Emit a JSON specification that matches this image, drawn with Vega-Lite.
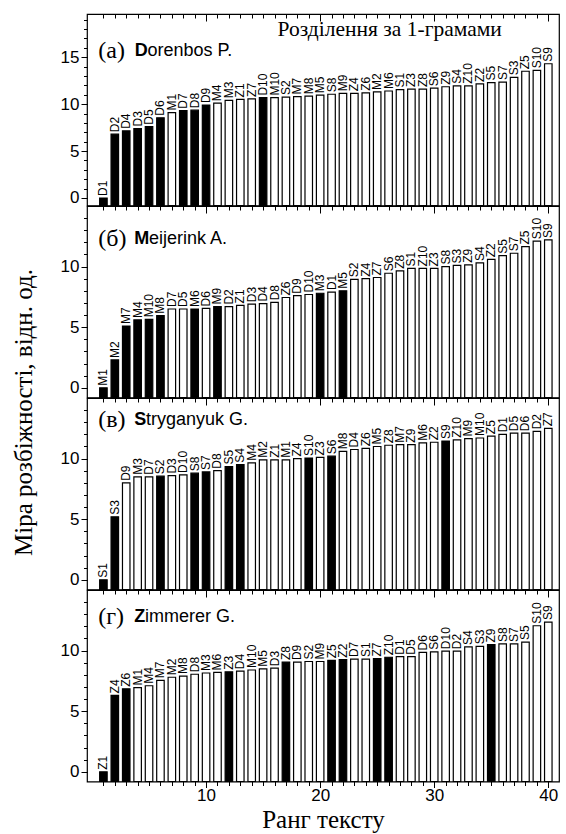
{
"$schema": "https://vega.github.io/schema/vega-lite/v6.json",
"padding": {"left": 10, "top": 12, "right": 8, "bottom": 0},
"spacing": 0,
"bounds": "flush",
"config": {
  "view": {"stroke": "black", "strokeWidth": 1.2},
  "axis": {"domain": false, "grid": false, "tickColor": "black", "tickWidth": 1, "labelColor": "black", "titleColor": "black", "labelFont": "Liberation Sans", "labelFontSize": 17, "titleFontWeight": "normal", "labelPadding": 2}
},
"datasets": {
"a": [
{"r":1,"t":"D1","v":0,"own":"y"},{"r":2,"t":"D2","v":6.8,"own":"y"},{"r":3,"t":"D4","v":7.15,"own":"y"},{"r":4,"t":"D3","v":7.4,"own":"y"},{"r":5,"t":"D5","v":7.6,"own":"y"},{"r":6,"t":"D6","v":8.55,"own":"y"},{"r":7,"t":"M1","v":9.1,"own":"n"},{"r":8,"t":"D7","v":9.3,"own":"y"},{"r":9,"t":"D8","v":9.35,"own":"y"},{"r":10,"t":"D9","v":9.9,"own":"y"},
{"r":11,"t":"M4","v":10.1,"own":"n"},{"r":12,"t":"M3","v":10.4,"own":"n"},{"r":13,"t":"Z1","v":10.5,"own":"n"},{"r":14,"t":"Z7","v":10.55,"own":"n"},{"r":15,"t":"D10","v":10.7,"own":"y"},{"r":16,"t":"M10","v":10.7,"own":"n"},{"r":17,"t":"S2","v":10.75,"own":"n"},{"r":18,"t":"M7","v":10.8,"own":"n"},{"r":19,"t":"M8","v":10.85,"own":"n"},{"r":20,"t":"M5","v":10.95,"own":"n"},
{"r":21,"t":"S8","v":11.05,"own":"n"},{"r":22,"t":"M9","v":11.15,"own":"n"},{"r":23,"t":"Z4","v":11.15,"own":"n"},{"r":24,"t":"Z6","v":11.2,"own":"n"},{"r":25,"t":"M2","v":11.3,"own":"n"},{"r":26,"t":"M6","v":11.4,"own":"n"},{"r":27,"t":"S1","v":11.55,"own":"n"},{"r":28,"t":"Z3","v":11.6,"own":"n"},{"r":29,"t":"Z8","v":11.6,"own":"n"},{"r":30,"t":"S6","v":11.7,"own":"n"},
{"r":31,"t":"Z9","v":11.85,"own":"n"},{"r":32,"t":"S4","v":11.95,"own":"n"},{"r":33,"t":"Z10","v":11.95,"own":"n"},{"r":34,"t":"Z2","v":12.15,"own":"n"},{"r":35,"t":"S5","v":12.3,"own":"n"},{"r":36,"t":"S7","v":12.35,"own":"n"},{"r":37,"t":"S3","v":12.85,"own":"n"},{"r":38,"t":"Z5","v":13.5,"own":"n"},{"r":39,"t":"S10","v":13.6,"own":"n"},{"r":40,"t":"S9","v":14.3,"own":"n"}
],
"b": [
{"r":1,"t":"M1","v":0,"own":"y"},{"r":2,"t":"M2","v":2.3,"own":"y"},{"r":3,"t":"M7","v":5.1,"own":"y"},{"r":4,"t":"M4","v":5.6,"own":"y"},{"r":5,"t":"M10","v":5.65,"own":"y"},{"r":6,"t":"M8","v":5.95,"own":"y"},{"r":7,"t":"D7","v":6.5,"own":"n"},{"r":8,"t":"D5","v":6.5,"own":"n"},{"r":9,"t":"M6","v":6.5,"own":"y"},{"r":10,"t":"D6","v":6.55,"own":"n"},
{"r":11,"t":"M9","v":6.7,"own":"y"},{"r":12,"t":"D2","v":6.7,"own":"n"},{"r":13,"t":"Z1","v":6.8,"own":"n"},{"r":14,"t":"D3","v":6.9,"own":"n"},{"r":15,"t":"D4","v":6.95,"own":"n"},{"r":16,"t":"D8","v":7.05,"own":"n"},{"r":17,"t":"Z6","v":7.45,"own":"n"},{"r":18,"t":"D9","v":7.6,"own":"n"},{"r":19,"t":"D10","v":7.7,"own":"n"},{"r":20,"t":"M3","v":7.8,"own":"y"},
{"r":21,"t":"D1","v":7.9,"own":"n"},{"r":22,"t":"M5","v":8.0,"own":"y"},{"r":23,"t":"S2","v":8.95,"own":"n"},{"r":24,"t":"Z4","v":9.0,"own":"n"},{"r":25,"t":"Z7","v":9.1,"own":"n"},{"r":26,"t":"S6","v":9.45,"own":"n"},{"r":27,"t":"Z8","v":9.65,"own":"n"},{"r":28,"t":"S1","v":9.85,"own":"n"},{"r":29,"t":"Z10","v":9.85,"own":"n"},{"r":30,"t":"Z3","v":9.85,"own":"n"},
{"r":31,"t":"S8","v":10.0,"own":"n"},{"r":32,"t":"S3","v":10.1,"own":"n"},{"r":33,"t":"Z9","v":10.15,"own":"n"},{"r":34,"t":"S4","v":10.3,"own":"n"},{"r":35,"t":"Z2","v":10.6,"own":"n"},{"r":36,"t":"S5","v":10.9,"own":"n"},{"r":37,"t":"S7","v":11.1,"own":"n"},{"r":38,"t":"Z5","v":11.65,"own":"n"},{"r":39,"t":"S10","v":12.1,"own":"n"},{"r":40,"t":"S9","v":12.2,"own":"n"}
],
"c": [
{"r":1,"t":"S1","v":0,"own":"y"},{"r":2,"t":"S3","v":5.2,"own":"y"},{"r":3,"t":"D9","v":8.0,"own":"n"},{"r":4,"t":"M3","v":8.5,"own":"n"},{"r":5,"t":"D7","v":8.5,"own":"n"},{"r":6,"t":"S2","v":8.55,"own":"y"},{"r":7,"t":"D3","v":8.6,"own":"n"},{"r":8,"t":"D10","v":8.65,"own":"n"},{"r":9,"t":"S8","v":8.8,"own":"y"},{"r":10,"t":"S7","v":8.9,"own":"y"},
{"r":11,"t":"D8","v":9.0,"own":"n"},{"r":12,"t":"S5","v":9.35,"own":"y"},{"r":13,"t":"S4","v":9.5,"own":"y"},{"r":14,"t":"M4","v":9.65,"own":"n"},{"r":15,"t":"M2","v":9.9,"own":"n"},{"r":16,"t":"Z1","v":9.9,"own":"n"},{"r":17,"t":"M1","v":9.9,"own":"n"},{"r":18,"t":"Z4","v":10.0,"own":"n"},{"r":19,"t":"S10","v":10.05,"own":"y"},{"r":20,"t":"Z3","v":10.1,"own":"n"},
{"r":21,"t":"S6","v":10.2,"own":"y"},{"r":22,"t":"M8","v":10.6,"own":"n"},{"r":23,"t":"D4","v":10.75,"own":"n"},{"r":24,"t":"Z6","v":10.85,"own":"n"},{"r":25,"t":"M5","v":11.0,"own":"n"},{"r":26,"t":"Z8","v":11.1,"own":"n"},{"r":27,"t":"M7","v":11.15,"own":"n"},{"r":28,"t":"Z9","v":11.15,"own":"n"},{"r":29,"t":"M6","v":11.3,"own":"n"},{"r":30,"t":"Z2","v":11.35,"own":"n"},
{"r":31,"t":"S9","v":11.45,"own":"y"},{"r":32,"t":"Z10","v":11.55,"own":"n"},{"r":33,"t":"M9","v":11.65,"own":"n"},{"r":34,"t":"M10","v":11.7,"own":"n"},{"r":35,"t":"Z5","v":11.85,"own":"n"},{"r":36,"t":"D1","v":12.0,"own":"n"},{"r":37,"t":"D5","v":12.1,"own":"n"},{"r":38,"t":"D6","v":12.1,"own":"n"},{"r":39,"t":"D2","v":12.25,"own":"n"},{"r":40,"t":"Z7","v":12.5,"own":"n"}
],
"d": [
{"r":1,"t":"Z1","v":0,"own":"y"},{"r":2,"t":"Z4","v":6.3,"own":"y"},{"r":3,"t":"Z6","v":6.85,"own":"y"},{"r":4,"t":"M1","v":6.95,"own":"n"},{"r":5,"t":"M4","v":7.1,"own":"n"},{"r":6,"t":"M7","v":7.55,"own":"n"},{"r":7,"t":"M2","v":7.8,"own":"n"},{"r":8,"t":"M8","v":7.9,"own":"n"},{"r":9,"t":"D8","v":8.05,"own":"n"},{"r":10,"t":"M3","v":8.15,"own":"n"},
{"r":11,"t":"M6","v":8.2,"own":"n"},{"r":12,"t":"Z3","v":8.25,"own":"y"},{"r":13,"t":"D4","v":8.3,"own":"n"},{"r":14,"t":"M10","v":8.4,"own":"n"},{"r":15,"t":"M5","v":8.5,"own":"n"},{"r":16,"t":"D3","v":8.55,"own":"n"},{"r":17,"t":"Z8","v":9.05,"own":"y"},{"r":18,"t":"D9","v":9.05,"own":"n"},{"r":19,"t":"S2","v":9.1,"own":"n"},{"r":20,"t":"M9","v":9.1,"own":"n"},
{"r":21,"t":"Z5","v":9.2,"own":"y"},{"r":22,"t":"Z2","v":9.25,"own":"y"},{"r":23,"t":"D7","v":9.3,"own":"n"},{"r":24,"t":"S1","v":9.3,"own":"n"},{"r":25,"t":"Z7","v":9.35,"own":"y"},{"r":26,"t":"Z10","v":9.45,"own":"y"},{"r":27,"t":"D1","v":9.5,"own":"n"},{"r":28,"t":"D5","v":9.5,"own":"n"},{"r":29,"t":"D6","v":9.85,"own":"n"},{"r":30,"t":"S6","v":9.9,"own":"n"},
{"r":31,"t":"D10","v":9.95,"own":"n"},{"r":32,"t":"D2","v":9.95,"own":"n"},{"r":33,"t":"S4","v":10.3,"own":"n"},{"r":34,"t":"S3","v":10.35,"own":"n"},{"r":35,"t":"Z9","v":10.5,"own":"y"},{"r":36,"t":"S8","v":10.55,"own":"n"},{"r":37,"t":"S7","v":10.55,"own":"n"},{"r":38,"t":"S5","v":10.7,"own":"n"},{"r":39,"t":"S10","v":12.05,"own":"n"},{"r":40,"t":"S9","v":12.35,"own":"n"}
]
},
"vconcat": [
{
 "width": 472, "height": 191.5,
 "data": {"name": "a"},
 "resolve": {"axis": {"x": "independent", "y": "independent"}},
 "layer": [
  {"mark": {"type": "bar", "size": 7.5, "stroke": "black", "strokeWidth": 1.2},
   "encoding": {
    "x": {"field": "r", "type": "quantitative", "scale": {"domain": [0, 40.5], "nice": false, "zero": false}, "axis": {"orient": "top", "values": [1,2,3,4,5,6,7,8,9,10,11,12,13,14,15,16,17,18,19,20,21,22,23,24,25,26,27,28,29,30,31,32,33,34,35,36,37,38,39,40], "tickSize": -4, "labels": false, "title": null}},
    "y": {"field": "v", "type": "quantitative", "scale": {"domain": [-0.8, 19.6], "nice": false, "zero": false}, "axis": {"orient": "left", "values": [0,5,10,15], "tickSize": 6, "title": null}},
    "y2": {"datum": -0.8},
    "fill": {"field": "own", "type": "nominal", "scale": {"domain": ["y","n"], "range": ["black","white"]}, "legend": null}
   }},
  {"mark": {"type": "text", "angle": 270, "align": "left", "baseline": "middle", "dx": 2, "font": "Liberation Sans", "fontSize": 12, "color": "black"},
   "encoding": {
    "x": {"field": "r", "type": "quantitative", "axis": {"orient": "top", "values": [10,20,30,40], "tickSize": -7, "labels": false, "title": null}},
    "y": {"field": "v", "type": "quantitative", "axis": {"orient": "left", "values": [0,1,2,3,4,5,6,7,8,9,10,11,12,13,14,15,16,17,18,19], "tickSize": 3.5, "labels": false, "title": null}},
    "text": {"field": "t"}
   }},
  {"data": {"values": [{}]}, "mark": {"type": "text", "text": "(а)", "font": "Liberation Serif", "fontSize": 24, "align": "left", "baseline": "middle", "color": "black"},
   "encoding": {"x": {"datum": 0.55, "type": "quantitative", "axis": null}, "y": {"datum": 15.7, "type": "quantitative", "axis": null}}},
  {"data": {"values": [{}]}, "mark": {"type": "text", "text": "D", "font": "Liberation Sans", "fontWeight": "bold", "fontSize": 18, "align": "left", "baseline": "middle", "color": "black"},
   "encoding": {"x": {"datum": 3.75, "type": "quantitative", "axis": null}, "y": {"datum": 15.7, "type": "quantitative", "axis": null}}},
  {"data": {"values": [{}]}, "mark": {"type": "text", "text": "orenbos P.", "font": "Liberation Sans", "fontSize": 18, "align": "left", "baseline": "middle", "color": "black"},
   "encoding": {"x": {"datum": 4.87, "type": "quantitative", "axis": null}, "y": {"datum": 15.7, "type": "quantitative", "axis": null}}},
  {"data": {"values": [{}]}, "mark": {"type": "text", "text": "Розділення за 1-грамами", "font": "Liberation Serif", "fontSize": 21.5, "align": "center", "baseline": "middle", "color": "black"},
   "encoding": {"x": {"datum": 26.1, "type": "quantitative", "axis": null}, "y": {"datum": 17.9, "type": "quantitative", "axis": null}}}
 ]
},
{
 "width": 472, "height": 191.5,
 "data": {"name": "b"},
 "resolve": {"axis": {"x": "independent", "y": "independent"}},
 "layer": [
  {"mark": {"type": "bar", "size": 7.5, "stroke": "black", "strokeWidth": 1.2},
   "encoding": {
    "x": {"field": "r", "type": "quantitative", "scale": {"domain": [0, 40.5], "nice": false, "zero": false}, "axis": {"orient": "top", "values": [1,2,3,4,5,6,7,8,9,10,11,12,13,14,15,16,17,18,19,20,21,22,23,24,25,26,27,28,29,30,31,32,33,34,35,36,37,38,39,40], "tickSize": -4, "labels": false, "title": null}},
    "y": {"field": "v", "type": "quantitative", "scale": {"domain": [-0.8, 15], "nice": false, "zero": false}, "axis": {"orient": "left", "values": [0,5,10], "tickSize": 6, "title": "Міра розбіжності, відн. од.", "titleFont": "Liberation Serif", "titleFontSize": 25, "titleX": -64, "titleY": 206, "titleAngle": 270, "titleAlign": "center", "titleBaseline": "middle"}},
    "y2": {"datum": -0.8},
    "fill": {"field": "own", "type": "nominal", "scale": {"domain": ["y","n"], "range": ["black","white"]}, "legend": null}
   }},
  {"mark": {"type": "text", "angle": 270, "align": "left", "baseline": "middle", "dx": 2, "font": "Liberation Sans", "fontSize": 12, "color": "black"},
   "encoding": {
    "x": {"field": "r", "type": "quantitative", "axis": {"orient": "top", "values": [10,20,30,40], "tickSize": -7, "labels": false, "title": null}},
    "y": {"field": "v", "type": "quantitative", "axis": {"orient": "left", "values": [0,1,2,3,4,5,6,7,8,9,10,11,12,13,14], "tickSize": 3.5, "labels": false, "title": null}},
    "text": {"field": "t"}
   }},
  {"data": {"values": [{}]}, "mark": {"type": "text", "text": "(б)", "font": "Liberation Serif", "fontSize": 24, "align": "left", "baseline": "middle", "color": "black"},
   "encoding": {"x": {"datum": 0.55, "type": "quantitative", "axis": null}, "y": {"datum": 12.25, "type": "quantitative", "axis": null}}},
  {"data": {"values": [{}]}, "mark": {"type": "text", "text": "M", "font": "Liberation Sans", "fontWeight": "bold", "fontSize": 18, "align": "left", "baseline": "middle", "color": "black"},
   "encoding": {"x": {"datum": 3.7, "type": "quantitative", "axis": null}, "y": {"datum": 12.25, "type": "quantitative", "axis": null}}},
  {"data": {"values": [{}]}, "mark": {"type": "text", "text": "eijerink A.", "font": "Liberation Sans", "fontSize": 18, "align": "left", "baseline": "middle", "color": "black"},
   "encoding": {"x": {"datum": 4.99, "type": "quantitative", "axis": null}, "y": {"datum": 12.25, "type": "quantitative", "axis": null}}}
 ]
},
{
 "width": 472, "height": 191.5,
 "data": {"name": "c"},
 "resolve": {"axis": {"x": "independent", "y": "independent"}},
 "layer": [
  {"mark": {"type": "bar", "size": 7.5, "stroke": "black", "strokeWidth": 1.2},
   "encoding": {
    "x": {"field": "r", "type": "quantitative", "scale": {"domain": [0, 40.5], "nice": false, "zero": false}, "axis": {"orient": "top", "values": [1,2,3,4,5,6,7,8,9,10,11,12,13,14,15,16,17,18,19,20,21,22,23,24,25,26,27,28,29,30,31,32,33,34,35,36,37,38,39,40], "tickSize": -4, "labels": false, "title": null}},
    "y": {"field": "v", "type": "quantitative", "scale": {"domain": [-0.8, 15], "nice": false, "zero": false}, "axis": {"orient": "left", "values": [0,5,10], "tickSize": 6, "title": null}},
    "y2": {"datum": -0.8},
    "fill": {"field": "own", "type": "nominal", "scale": {"domain": ["y","n"], "range": ["black","white"]}, "legend": null}
   }},
  {"mark": {"type": "text", "angle": 270, "align": "left", "baseline": "middle", "dx": 2, "font": "Liberation Sans", "fontSize": 12, "color": "black"},
   "encoding": {
    "x": {"field": "r", "type": "quantitative", "axis": {"orient": "top", "values": [10,20,30,40], "tickSize": -7, "labels": false, "title": null}},
    "y": {"field": "v", "type": "quantitative", "axis": {"orient": "left", "values": [0,1,2,3,4,5,6,7,8,9,10,11,12,13,14], "tickSize": 3.5, "labels": false, "title": null}},
    "text": {"field": "t"}
   }},
  {"data": {"values": [{}]}, "mark": {"type": "text", "text": "(в)", "font": "Liberation Serif", "fontSize": 24, "align": "left", "baseline": "middle", "color": "black"},
   "encoding": {"x": {"datum": 0.55, "type": "quantitative", "axis": null}, "y": {"datum": 13.2, "type": "quantitative", "axis": null}}},
  {"data": {"values": [{}]}, "mark": {"type": "text", "text": "S", "font": "Liberation Sans", "fontWeight": "bold", "fontSize": 18, "align": "left", "baseline": "middle", "color": "black"},
   "encoding": {"x": {"datum": 3.7, "type": "quantitative", "axis": null}, "y": {"datum": 13.2, "type": "quantitative", "axis": null}}},
  {"data": {"values": [{}]}, "mark": {"type": "text", "text": "tryganyuk G.", "font": "Liberation Sans", "fontSize": 18, "align": "left", "baseline": "middle", "color": "black"},
   "encoding": {"x": {"datum": 4.73, "type": "quantitative", "axis": null}, "y": {"datum": 13.2, "type": "quantitative", "axis": null}}}
 ]
},
{
 "width": 472, "height": 191.5,
 "data": {"name": "d"},
 "resolve": {"axis": {"x": "independent", "y": "independent"}},
 "layer": [
  {"mark": {"type": "bar", "size": 7.5, "stroke": "black", "strokeWidth": 1.2},
   "encoding": {
    "x": {"field": "r", "type": "quantitative", "scale": {"domain": [0, 40.5], "nice": false, "zero": false}, "axis": {"orient": "top", "values": [1,2,3,4,5,6,7,8,9,10,11,12,13,14,15,16,17,18,19,20,21,22,23,24,25,26,27,28,29,30,31,32,33,34,35,36,37,38,39,40], "tickSize": -4, "labels": false, "title": null}},
    "y": {"field": "v", "type": "quantitative", "scale": {"domain": [-0.8, 15], "nice": false, "zero": false}, "axis": {"orient": "left", "values": [0,5,10], "tickSize": 6, "title": null}},
    "y2": {"datum": -0.8},
    "fill": {"field": "own", "type": "nominal", "scale": {"domain": ["y","n"], "range": ["black","white"]}, "legend": null}
   }},
  {"mark": {"type": "text", "angle": 270, "align": "left", "baseline": "middle", "dx": 2, "font": "Liberation Sans", "fontSize": 12, "color": "black"},
   "encoding": {
    "x": {"field": "r", "type": "quantitative", "axis": {"orient": "top", "values": [10,20,30,40], "tickSize": -7, "labels": false, "title": null}},
    "y": {"field": "v", "type": "quantitative", "axis": {"orient": "left", "values": [0,1,2,3,4,5,6,7,8,9,10,11,12,13,14], "tickSize": 3.5, "labels": false, "title": null}},
    "text": {"field": "t"}
   }},
  {"data": {"values": [{}]}, "mark": {"type": "text", "text": "(г)", "font": "Liberation Serif", "fontSize": 24, "align": "left", "baseline": "middle", "color": "black"},
   "encoding": {"x": {"datum": 0.55, "type": "quantitative", "axis": {"orient": "bottom", "values": [1,2,3,4,5,6,7,8,9,10,11,12,13,14,15,16,17,18,19,20,21,22,23,24,25,26,27,28,29,30,31,32,33,34,35,36,37,38,39,40], "tickSize": 4, "labels": false, "title": null}}, "y": {"datum": 12.8, "type": "quantitative", "axis": null}}},
  {"data": {"values": [{}]}, "mark": {"type": "text", "text": "Z", "font": "Liberation Sans", "fontWeight": "bold", "fontSize": 18, "align": "left", "baseline": "middle", "color": "black"},
   "encoding": {"x": {"datum": 3.7, "type": "quantitative", "axis": {"orient": "bottom", "values": [10,20,30,40], "tickSize": 6, "labelPadding": 0, "title": "Ранг тексту", "titleFont": "Liberation Serif", "titleFontSize": 25, "titlePadding": 4}}, "y": {"datum": 12.8, "type": "quantitative", "axis": null}}},
  {"data": {"values": [{}]}, "mark": {"type": "text", "text": "immerer G.", "font": "Liberation Sans", "fontSize": 18, "align": "left", "baseline": "middle", "color": "black"},
   "encoding": {"x": {"datum": 4.64, "type": "quantitative", "axis": null}, "y": {"datum": 12.8, "type": "quantitative", "axis": null}}}
 ]
}
]
}
